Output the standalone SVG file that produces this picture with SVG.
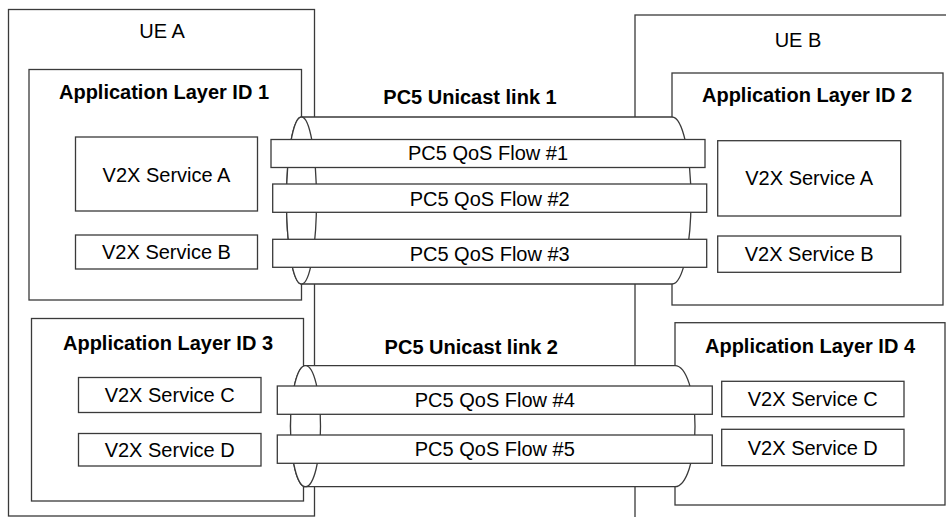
<svg xmlns="http://www.w3.org/2000/svg" width="946" height="517" viewBox="0 0 946 517">
<style>
.box{fill:#fff;stroke:#3a3a3a;stroke-width:1.3}
.pipe{fill:#fff;stroke:#3a3a3a;stroke-width:1.3}
.t{font-family:"Liberation Sans",Arial,sans-serif;font-size:20px;fill:#000;text-anchor:middle}
.b{font-weight:bold}
</style>
<rect width="946" height="517" fill="#fff"/>
<g id="ueA">
<rect class="box" x="8.5" y="9.5" width="306" height="506.5"/>
<text class="t" x="162" y="38">UE A</text>
</g>
<g id="ueB">
<rect class="box" x="635" y="15" width="330" height="520"/>
<text class="t" x="798" y="47">UE B</text>
</g>
<g id="app1">
<rect class="box" x="29" y="69.5" width="272.5" height="230.5"/>
<text class="t b" x="164" y="99">Application Layer ID 1</text>
</g>
<g id="app1-svcA">
<rect class="box" x="75.5" y="137" width="182" height="74"/>
<text class="t" x="166.5" y="181.5">V2X Service A</text>
</g>
<g id="app1-svcB">
<rect class="box" x="75.5" y="235" width="182" height="34"/>
<text class="t" x="166.5" y="259">V2X Service B</text>
</g>
<g id="app3">
<rect class="box" x="31.5" y="318.5" width="272" height="182.5"/>
<text class="t b" x="168" y="350">Application Layer ID 3</text>
</g>
<g id="app3-svcC">
<rect class="box" x="78.5" y="377.5" width="182.5" height="35"/>
<text class="t" x="169.7" y="401.7">V2X Service C</text>
</g>
<g id="app3-svcD">
<rect class="box" x="78.5" y="433.5" width="182.5" height="32.5"/>
<text class="t" x="169.7" y="456.7">V2X Service D</text>
</g>
<g id="app2">
<rect class="box" x="672" y="73" width="271" height="232"/>
<text class="t b" x="807" y="101.7">Application Layer ID 2</text>
</g>
<g id="app2-svcA">
<rect class="box" x="717.7" y="140.7" width="183" height="75.3"/>
<text class="t" x="809.2" y="185">V2X Service A</text>
</g>
<g id="app2-svcB">
<rect class="box" x="717.7" y="236" width="183" height="36.3"/>
<text class="t" x="809.2" y="261">V2X Service B</text>
</g>
<g id="app4">
<rect class="box" x="675" y="322.7" width="270" height="182.3"/>
<text class="t b" x="810" y="353.3">Application Layer ID 4</text>
</g>
<g id="app4-svcC">
<rect class="box" x="721.7" y="381.3" width="182.3" height="35.4"/>
<text class="t" x="812.8" y="406">V2X Service C</text>
</g>
<g id="app4-svcD">
<rect class="box" x="721.7" y="429.3" width="182.3" height="36.4"/>
<text class="t" x="812.8" y="455">V2X Service D</text>
</g>
<g id="connectors">
<g id="link1">
<text class="t b" x="470" y="104">PC5 Unicast link 1</text>
<path class="pipe" d="M301.5,117 L672,117 A19,83.5 0 0 1 672,284 L301.5,284 A15,83.5 0 0 1 301.5,117 Z"/>
<ellipse class="pipe" cx="301.5" cy="200.5" rx="15" ry="83.5"/>
<rect class="box" x="271" y="139.5" width="434" height="28"/>
<text class="t" x="488" y="160">PC5 QoS Flow #1</text>
<rect class="box" x="272.7" y="184" width="434" height="28.3"/>
<text class="t" x="489.7" y="205.5">PC5 QoS Flow #2</text>
<rect class="box" x="272.7" y="239.3" width="434" height="28"/>
<text class="t" x="489.7" y="260.5">PC5 QoS Flow #3</text>
</g>
<g id="link2">
<text class="t b" x="471.3" y="354">PC5 Unicast link 2</text>
<path class="pipe" d="M305.5,365.7 L675,365.7 A20,60.5 0 0 1 675,486.7 L305.5,486.7 A15,60.5 0 0 1 305.5,365.7 Z"/>
<ellipse class="pipe" cx="305.5" cy="426.2" rx="15" ry="60.5"/>
<rect class="box" x="277.3" y="386" width="435" height="28.3"/>
<text class="t" x="494.8" y="407.3">PC5 QoS Flow #4</text>
<rect class="box" x="277.3" y="435" width="435" height="28.3"/>
<text class="t" x="494.8" y="456.3">PC5 QoS Flow #5</text>
</g>
</g>
</svg>
